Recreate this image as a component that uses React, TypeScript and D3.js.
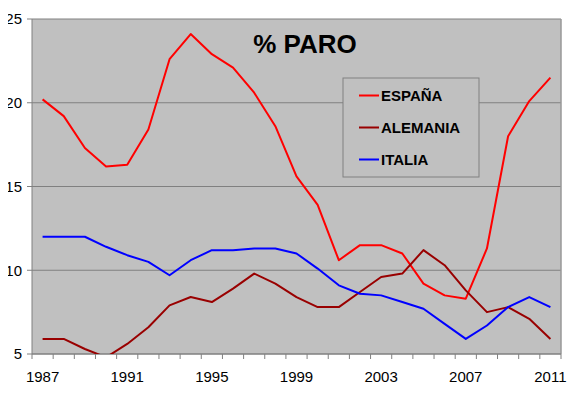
import React, { useRef, useEffect } from 'react';
import * as d3 from 'd3';

const years = d3.range(1987, 2012).map(String);
const yearLabels = ['1987', '1991', '1995', '1999', '2003', '2007', '2011'];
const yTicks = [5, 10, 15, 20, 25];

const espana = [20.2, 19.2, 17.3, 16.2, 16.3, 18.4, 22.6, 24.1, 22.9, 22.1, 20.6, 18.6, 15.6, 13.9, 10.6, 11.5, 11.5, 11.0, 9.2, 8.5, 8.3, 11.3, 18.0, 20.1, 21.5];
const alemania = [5.9, 5.9, 5.3, 4.8, 5.6, 6.6, 7.9, 8.4, 8.1, 8.9, 9.8, 9.2, 8.4, 7.8, 7.8, 8.7, 9.6, 9.8, 11.2, 10.3, 8.8, 7.5, 7.8, 7.1, 5.9];
const italia = [12.0, 12.0, 12.0, 11.4, 10.9, 10.5, 9.7, 10.6, 11.2, 11.2, 11.3, 11.3, 11.0, 10.1, 9.1, 8.6, 8.5, 8.1, 7.7, 6.8, 5.9, 6.7, 7.8, 8.4, 7.8];

const series = [
  { name: 'ESPAÑA', values: espana, color: '#ff0000' },
  { name: 'ALEMANIA', values: alemania, color: '#990000' },
  { name: 'ITALIA', values: italia, color: '#0000ff' },
];

const Chart: React.FC<{ width?: number; height?: number }> = ({ width = 575, height = 398 }) => {
  const svgRef = useRef<SVGSVGElement>(null);

  useEffect(() => {
    if (!svgRef.current) return;
    const svg = d3.select(svgRef.current);
    svg.selectAll('*').remove();

    const margin = { top: 19, right: 14, bottom: 44, left: 32 };
    const innerWidth = width - margin.left - margin.right;
    const innerHeight = height - margin.top - margin.bottom;
    const font = 'Arial, "Liberation Sans", sans-serif';

    const x = d3.scaleBand().domain(years).range([0, innerWidth]);
    const y = d3.scaleLinear().domain([5, 25]).range([innerHeight, 0]);

    const g = svg.append('g').attr('transform', `translate(${margin.left},${margin.top})`);

    // plot area
    g.append('rect')
      .attr('width', innerWidth)
      .attr('height', innerHeight)
      .attr('fill', '#c0c0c0');

    // grid
    yTicks.forEach(t => {
      g.append('line')
        .attr('x1', 0).attr('x2', innerWidth)
        .attr('y1', y(t)).attr('y2', y(t))
        .attr('stroke', '#808080')
        .attr('stroke-width', 1);
    });
    g.append('line')
      .attr('x1', innerWidth).attr('x2', innerWidth)
      .attr('y1', 0).attr('y2', innerHeight)
      .attr('stroke', '#999')
      .attr('stroke-width', 1.5);

    // axes
    g.append('line')
      .attr('x1', 0).attr('x2', 0).attr('y1', 0).attr('y2', innerHeight)
      .attr('stroke', '#808080');
    g.append('line')
      .attr('x1', 0).attr('x2', innerWidth).attr('y1', innerHeight).attr('y2', innerHeight)
      .attr('stroke', '#808080');

    yTicks.forEach(t => {
      g.append('line')
        .attr('x1', -5).attr('x2', 0)
        .attr('y1', y(t)).attr('y2', y(t))
        .attr('stroke', '#808080');
      g.append('text')
        .attr('x', -10)
        .attr('y', y(t))
        .attr('dy', '0.35em')
        .attr('text-anchor', 'end')
        .attr('font-family', font)
        .attr('font-size', 15)
        .text(t);
    });

    // tick marks between categories
    d3.range(years.length + 1).forEach(i => {
      const xp = i * x.bandwidth();
      g.append('line')
        .attr('x1', xp).attr('x2', xp)
        .attr('y1', innerHeight).attr('y2', innerHeight + 5)
        .attr('stroke', '#808080');
    });

    yearLabels.forEach(l => {
      g.append('text')
        .attr('x', (x(l) ?? 0) + x.bandwidth() / 2)
        .attr('y', innerHeight + 28)
        .attr('text-anchor', 'middle')
        .attr('font-family', font)
        .attr('font-size', 15)
        .text(l);
    });

    // clip
    svg.append('defs').append('clipPath').attr('id', 'plot-clip')
      .append('rect').attr('width', innerWidth).attr('height', innerHeight);

    const line = d3.line<number>()
      .x((_, i) => (x(years[i]) ?? 0) + x.bandwidth() / 2)
      .y(d => y(d));

    series.forEach(s => {
      g.append('path')
        .datum(s.values)
        .attr('clip-path', 'url(#plot-clip)')
        .attr('fill', 'none')
        .attr('stroke', s.color)
        .attr('stroke-width', 2)
        .attr('stroke-linejoin', 'round')
        .attr('d', line);
    });

    // title
    svg.append('text')
      .attr('x', 305)
      .attr('y', 53)
      .attr('text-anchor', 'middle')
      .attr('font-family', font)
      .attr('font-weight', 'bold')
      .attr('font-size', 26)
      .text('% PARO');

    // legend
    const lg = svg.append('g').attr('transform', 'translate(343,78)');
    lg.append('rect')
      .attr('width', 136)
      .attr('height', 99)
      .attr('fill', '#c0c0c0')
      .attr('stroke', '#808080')
      .attr('stroke-width', 1);
    series.forEach((s, i) => {
      const ry = 17.5 + i * 32;
      lg.append('line')
        .attr('x1', 16).attr('x2', 36)
        .attr('y1', ry).attr('y2', ry)
        .attr('stroke', s.color)
        .attr('stroke-width', 2);
      lg.append('text')
        .attr('x', 38)
        .attr('y', ry)
        .attr('dy', '0.36em')
        .attr('font-family', font)
        .attr('font-weight', 'bold')
        .attr('font-size', 15)
        .text(s.name);
    });
  }, [width, height]);

  return <svg ref={svgRef} width={width} height={height} style={{ display: 'block', background: '#fff' }} />;
};

export default function App() {
  return (
    <div style={{ margin: -8 }}>
      <Chart />
    </div>
  );
}
